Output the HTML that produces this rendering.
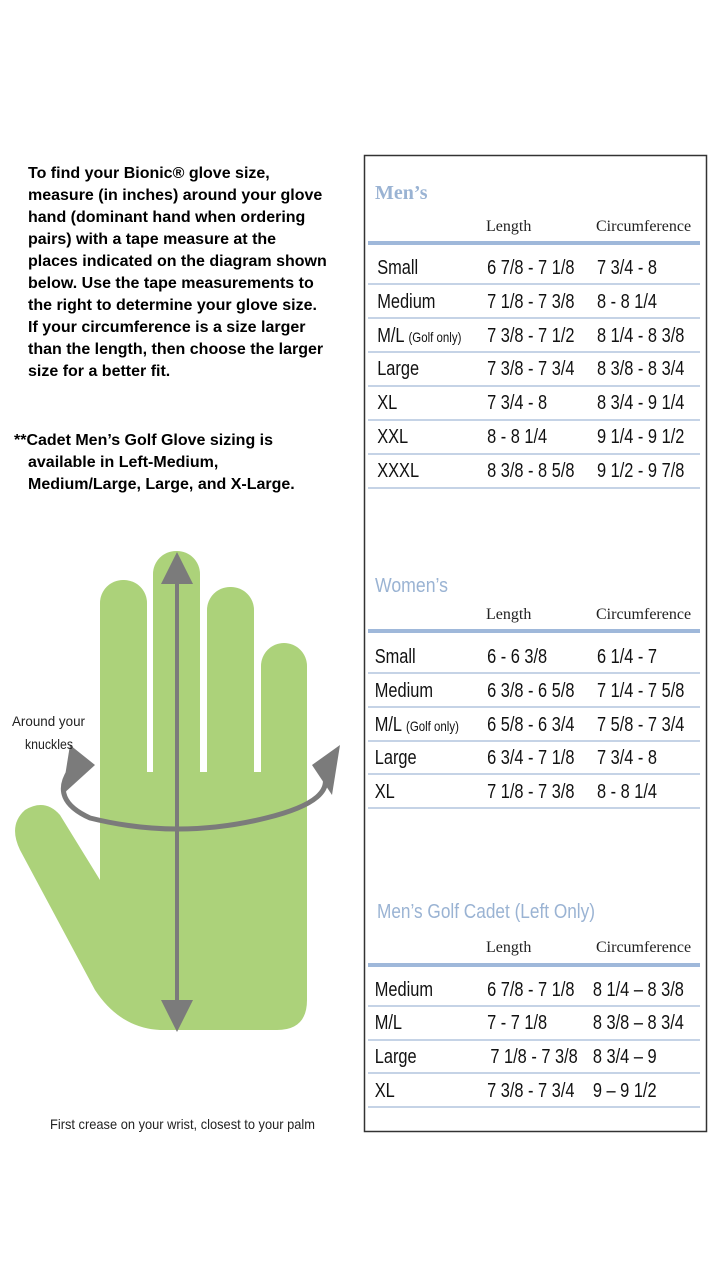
<!DOCTYPE html>
<html><head><meta charset="utf-8"><style>
html,body{margin:0;padding:0;background:#fff;}
svg{display:block}
.t{font-family:"Liberation Sans",sans-serif;font-weight:bold;font-size:16px;fill:#000}
.r{font-family:"Liberation Sans",sans-serif;font-size:20px;fill:#111}
.h{font-family:"Liberation Serif",serif;font-size:16px;fill:#222}
.ti{font-family:"Liberation Sans",sans-serif;font-size:20px;fill:#9ab3d3}
</style></head><body>
<svg width="720" height="1280" viewBox="0 0 720 1280" xmlns="http://www.w3.org/2000/svg">
<rect width="720" height="1280" fill="#fff"/>
<g class="t">
<text x="28" y="178">To find your Bionic® glove size,</text>
<text x="28" y="200">measure (in inches) around your glove</text>
<text x="28" y="222">hand (dominant hand when ordering</text>
<text x="28" y="244">pairs) with a tape measure at the</text>
<text x="28" y="266">places indicated on the diagram shown</text>
<text x="28" y="288">below. Use the tape measurements to</text>
<text x="28" y="310">the right to determine your glove size.</text>
<text x="28" y="332">If your circumference is a size larger</text>
<text x="28" y="354">than the length, then choose the larger</text>
<text x="28" y="376">size for a better fit.</text>
<text x="14" y="445">**Cadet Men’s Golf Glove sizing is</text>
<text x="28" y="467">available in Left-Medium,</text>
<text x="28" y="489">Medium/Large, Large, and X-Large.</text>
</g>
<g fill="#acd27a">
<rect x="100" y="580" width="47" height="220" rx="23"/>
<rect x="153" y="551" width="47" height="250" rx="23"/>
<rect x="207" y="587" width="47" height="210" rx="23"/>
<rect x="261" y="643" width="46" height="160" rx="23"/>
<path d="M100 772 L307 772 L307 1000 Q307 1030 277 1030 L160 1030 Q120 1028 95 990 L20 850 Q8 825 25 810 Q45 798 60 815 L100 880 Z"/>
</g>
<path d="M70 770 Q50 800 90 818 Q178 840 266 818 Q340 800 322 770" fill="none" stroke="#7b7b7b" stroke-width="5"/>
<polygon points="62,795 95,765 70,745" fill="#7b7b7b"/>
<polygon points="332,795 312,765 340,745" fill="#7b7b7b"/>
<line x1="177" y1="575" x2="177" y2="1010" stroke="#7b7b7b" stroke-width="4"/>
<polygon points="177,552 161,584 193,584" fill="#7b7b7b"/>
<polygon points="177,1032 161,1000 193,1000" fill="#7b7b7b"/>
<g font-family="Liberation Sans,sans-serif" font-size="14" fill="#222">
<text x="12" y="726" textLength="73" lengthAdjust="spacingAndGlyphs">Around your</text>
<text x="25" y="749" textLength="48" lengthAdjust="spacingAndGlyphs">knuckles</text>
<text x="50" y="1129" textLength="265" lengthAdjust="spacingAndGlyphs">First crease on your wrist, closest to your palm</text>
</g>
<rect x="364.5" y="155.5" width="342" height="976" fill="none" stroke="#333" stroke-width="1.5"/>
<text class="ti" x="375" y="199" style="font-family:'Liberation Serif',serif;font-weight:bold">Men’s</text>
<text class="h" x="486" y="231">Length</text><text class="h" x="596" y="231">Circumference</text>
<rect x="368" y="241" width="332" height="4" fill="#9fb8da"/>
<g class="r" transform="scale(0.82,1)">
<text x="460" y="274">Small</text><text x="594" y="274">6 7/8 - 7 1/8</text><text x="728" y="274">7 3/4 - 8</text>
<text x="460" y="308">Medium</text><text x="594" y="308">7 1/8 - 7 3/8</text><text x="728" y="308">8 - 8 1/4</text>
<text x="460" y="342">M/L <tspan font-size="14">(Golf only)</tspan></text><text x="594" y="342">7 3/8 - 7 1/2</text><text x="728" y="342">8 1/4 - 8 3/8</text>
<text x="460" y="375">Large</text><text x="594" y="375">7 3/8 - 7 3/4</text><text x="728" y="375">8 3/8 - 8 3/4</text>
<text x="460" y="409">XL</text><text x="594" y="409">7 3/4 - 8</text><text x="728" y="409">8 3/4 - 9 1/4</text>
<text x="460" y="443">XXL</text><text x="594" y="443">8 - 8 1/4</text><text x="728" y="443">9 1/4 - 9 1/2</text>
<text x="460" y="477">XXXL</text><text x="594" y="477">8 3/8 - 8 5/8</text><text x="728" y="477">9 1/2 - 9 7/8</text>
</g>
<g stroke="#c5d3e6" stroke-width="2">
<line x1="368" y1="284" x2="700" y2="284"/><line x1="368" y1="318" x2="700" y2="318"/><line x1="368" y1="352" x2="700" y2="352"/><line x1="368" y1="386" x2="700" y2="386"/><line x1="368" y1="420" x2="700" y2="420"/><line x1="368" y1="454" x2="700" y2="454"/><line x1="368" y1="488" x2="700" y2="488"/>
</g>
<text class="ti" x="375" y="592" textLength="73" lengthAdjust="spacingAndGlyphs">Women’s</text>
<text class="h" x="486" y="619">Length</text><text class="h" x="596" y="619">Circumference</text>
<rect x="368" y="629" width="332" height="4" fill="#9fb8da"/>
<g class="r" transform="scale(0.82,1)">
<text x="457" y="663">Small</text><text x="594" y="663">6 - 6 3/8</text><text x="728" y="663">6 1/4 - 7</text>
<text x="457" y="697">Medium</text><text x="594" y="697">6 3/8 - 6 5/8</text><text x="728" y="697">7 1/4 - 7 5/8</text>
<text x="457" y="731">M/L <tspan font-size="14">(Golf only)</tspan></text><text x="594" y="731">6 5/8 - 6 3/4</text><text x="728" y="731">7 5/8 - 7 3/4</text>
<text x="457" y="764">Large</text><text x="594" y="764">6 3/4 - 7 1/8</text><text x="728" y="764">7 3/4 - 8</text>
<text x="457" y="798">XL</text><text x="594" y="798">7 1/8 - 7 3/8</text><text x="728" y="798">8 - 8 1/4</text>
</g>
<g stroke="#c5d3e6" stroke-width="2">
<line x1="368" y1="673" x2="700" y2="673"/><line x1="368" y1="707" x2="700" y2="707"/><line x1="368" y1="741" x2="700" y2="741"/><line x1="368" y1="774" x2="700" y2="774"/><line x1="368" y1="808" x2="700" y2="808"/>
</g>
<text class="ti" x="377" y="918" textLength="218" lengthAdjust="spacingAndGlyphs">Men’s Golf Cadet (Left Only)</text>
<text class="h" x="486" y="952">Length</text><text class="h" x="596" y="952">Circumference</text>
<rect x="368" y="963" width="332" height="4" fill="#9fb8da"/>
<g class="r" transform="scale(0.82,1)">
<text x="457" y="996">Medium</text><text x="594" y="996">6 7/8 - 7 1/8</text><text x="723" y="996">8 1/4 – 8 3/8</text>
<text x="457" y="1029">M/L</text><text x="594" y="1029">7 - 7 1/8</text><text x="723" y="1029">8 3/8 – 8 3/4</text>
<text x="457" y="1063">Large</text><text x="598" y="1063">7 1/8 - 7 3/8</text><text x="723" y="1063">8 3/4 – 9</text>
<text x="457" y="1097">XL</text><text x="594" y="1097">7 3/8 - 7 3/4</text><text x="723" y="1097">9 – 9 1/2</text>
</g>
<g stroke="#c5d3e6" stroke-width="2">
<line x1="368" y1="1006" x2="700" y2="1006"/><line x1="368" y1="1040" x2="700" y2="1040"/><line x1="368" y1="1073" x2="700" y2="1073"/><line x1="368" y1="1107" x2="700" y2="1107"/>
</g>
</svg>
</body></html>
